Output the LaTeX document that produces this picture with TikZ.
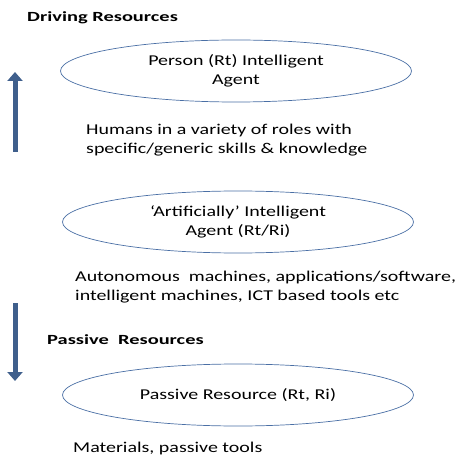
\documentclass[tikz,border=0pt]{standalone}
\usepackage{fontspec}
\setmainfont{Carlito}
\newfontfamily\wide[FakeStretch=1.33]{Carlito}
\newfontfamily\widebold[FakeStretch=1.46]{Carlito Bold}
\usetikzlibrary{arrows.meta,shapes.geometric}

\definecolor{ringblue}{HTML}{4A6FA5}
\definecolor{arrowblue}{HTML}{3F5F8C}
\tikzstyle{agent}=[ellipse, draw=ringblue, line width=0.7pt, minimum width=351pt, minimum height=62pt, inner sep=0pt, align=center, font=\wide\fontsize{15}{19}\selectfont]
\tikzstyle{note}=[anchor=west, align=left, inner sep=0pt, font=\wide\fontsize{15}{19.5}\selectfont]
\tikzstyle{heading}=[anchor=west, inner sep=0pt, font=\widebold\fontsize{14}{16}\selectfont]
\tikzstyle{flow}=[arrowblue, line width=5pt, -{Triangle[width=15pt,length=9pt]}]

\begin{document}
\begin{tikzpicture}[x=1pt, y=-1pt]
            % Ohraniceni
            \useasboundingbox (0,0) rectangle (463,457);

            % Nadpisy
            \node[heading] (drive) at (27,17.5) {Driving Resources};
            \node[heading] (passive) at (47,340) {Passive\ \ Resources};

            % Elipsy
            \node[agent] (person) at (236,71) {Person (Rt) Intelligent\\Agent};
            \node[agent] (artif) at (238,222) {‘Artificially’ Intelligent\\Agent (Rt/Ri)};
            \node[agent] (passres) at (238,395) {Passive Resource (Rt, Ri)};

            % Popisky
            \node[note] (humans) at (86,140) {Humans in a variety of roles with\\specific/generic skills \& knowledge};
            \node[note] (machines) at (75,287) {Autonomous\ \ machines, applications/software,\\intelligent machines, ICT based tools etc};
            \node[note] (materials) at (73,448) {Materials, passive tools};

            % Sipky
            \coordinate (upfoot) at (15,152);
            \coordinate (uptip) at (15,72);
            \coordinate (downtop) at (15,303);
            \coordinate (downtip) at (15,381);
            \draw[flow] (upfoot) -- (uptip);
            \draw[flow] (downtop) -- (downtip);
        \end{tikzpicture}
\end{document}
